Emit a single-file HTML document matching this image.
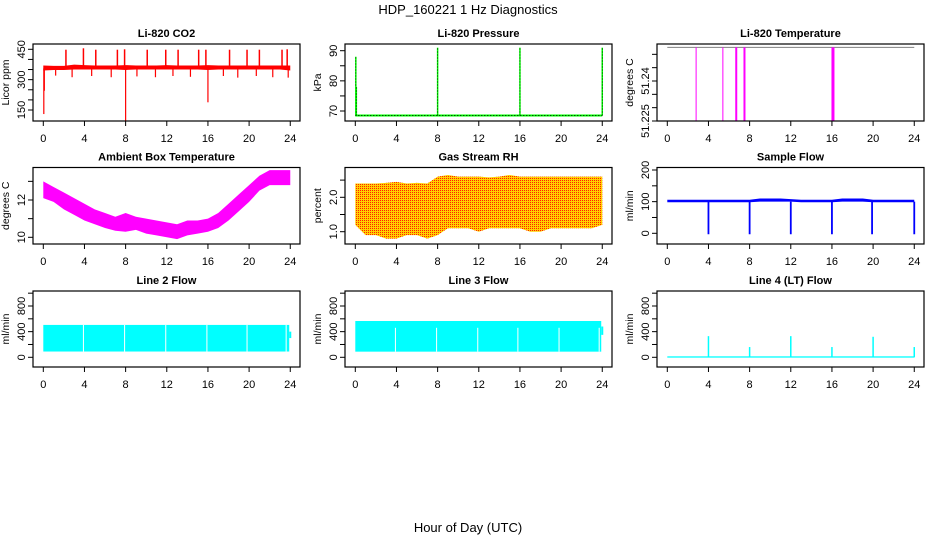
<!DOCTYPE html>
<html><head><meta charset="utf-8">
<style>
html,body{margin:0;padding:0;background:#fff;}
svg{display:block;font-family:"Liberation Sans",Arial,sans-serif;}
</style></head>
<body>
<svg id="chart" width="936" height="540" viewBox="0 0 936 540" xmlns="http://www.w3.org/2000/svg">
<defs>
<pattern id="rhdots" width="2" height="2" patternUnits="userSpaceOnUse"><rect x="0" y="0" width="1" height="1" fill="#ff2000"/></pattern>
</defs>
<text x="468" y="14" text-anchor="middle" font-size="13">HDP_160221  1 Hz Diagnostics</text>
<text x="468" y="532" text-anchor="middle" font-size="13">Hour of Day (UTC)</text>
</svg>
<script>
// ---- data ----
const hourTicks = [0,4,8,12,16,20,24];
const hours = [0,1,2,3,4,5,6,7,8,9,10,11,12,13,14,15,16,17,18,19,20,21,22,23,24];
// CO2
const co2Lo = [345,348,348,350,350,350,350,350,348,350,350,350,350,350,350,350,348,350,350,350,350,350,350,350,345];
const co2Hi = [370,368,368,374,372,370,370,370,372,370,370,370,372,370,370,370,372,370,370,370,370,370,370,370,370];
const co2SpikeH = [2.2,3.9,5.1,7.2,7.9,10.1,11.9,13.1,15.1,15.8,18.1,19.8,21.0,23.2,23.7];
const co2SpikeV = [448,455,448,448,450,448,448,448,448,448,448,448,448,448,450];
const co2DipH = [0.05,0.1,8.0,16.0,1.2,2.8,4.7,6.6,9.1,10.9,12.6,14.3,17.5,18.9,20.7,22.3,23.8];
const co2DipV = [130,245,96,188,320,312,318,312,316,312,318,314,318,310,318,312,310];
// Pressure
const presBase = 68.5;
const presSpikeH = [0.05,0.1,8.0,16.0,24.0];
const presSpikeV = [88,78,91,91,91];
// Li-820 temperature
const tempTop = 51.2526;
const tempDropH = [2.8,5.4,6.7,7.5,16.1];
const tempDropW = [1,1,2,2,3];
const tempDropV = [51.225,51.225,51.225,51.225,51.225];
// Ambient
const ambLo = [12.1,11.9,11.5,11.2,10.9,10.7,10.5,10.35,10.3,10.4,10.2,10.1,10.0,9.9,10.1,10.2,10.3,10.5,10.9,11.4,11.9,12.5,12.8,12.8,12.8];
const ambHi = [13.0,12.7,12.4,12.1,11.8,11.5,11.3,11.1,11.3,11.1,11.0,10.9,10.8,10.7,10.9,10.9,11.0,11.3,11.8,12.3,12.8,13.3,13.6,13.6,13.6];
// RH
const rhLo = [1.2,0.9,0.9,0.8,0.8,0.9,0.9,0.8,0.9,1.1,1.1,1.1,1.0,1.1,1.1,1.1,1.1,1.0,1.0,1.1,1.1,1.1,1.1,1.1,1.2];
const rhHi = [2.4,2.4,2.4,2.42,2.45,2.4,2.42,2.4,2.6,2.65,2.6,2.6,2.6,2.58,2.6,2.65,2.6,2.6,2.6,2.6,2.6,2.6,2.6,2.6,2.6];
// Sample flow
const sfLo = [98,98,98,98,98,98,98,98,98,100,100,100,100,98,98,98,98,100,100,100,98,98,98,98,98];
const sfHi = [106,106,106,106,106,106,106,106,106,110,110,110,108,106,106,106,106,110,110,110,106,106,106,106,106];
const sfDipH = [4.0,8.0,12.0,16.0,19.9,24.0];
const sfDipV = [-3,-3,-3,-3,-3,-3];
// Line flows
const l2Lo = 90, l2Hi = 505;
const l2GapH = [3.9,7.9,11.9,15.9,19.8,23.6];
const l3Lo = 88, l3Hi = 566;
const l3GapH = [3.9,7.9,11.9,15.8,19.8,23.7];
const l4Base = 15;
const l4SpikeH = [4.0,8.0,12.0,16.0,20.0,24.0];
const l4SpikeV = [330,160,330,160,320,160];

// ---- layout ----
const svg = document.getElementById('chart');
const NS = 'http://www.w3.org/2000/svg';
const rowTop = [44,167.5,291], rowBot = [121,244,367];
function el(tag, attrs, parent){const e=document.createElementNS(NS,tag);for(const k in attrs)e.setAttribute(k,attrs[k]);(parent||svg).appendChild(e);return e;}
function makePanel(c, r, title, ylab, v1, p1, v2, p2, yticks, ylabels, name){
  const g = el('g',{});
  
  
  const L=33+312*c, R=300+312*c, T=rowTop[r], B=rowBot[r];
  const x = h => 43.3+312*c + h*10.29;
  const y = v => p1 + (v-v1)*(p2-p1)/(v2-v1);
  const t = el('text',{x:(L+R)/2,y:T-7,'text-anchor':'middle','font-size':11,'font-weight':'bold'},g);
  t.textContent = title;
  
  
  const yl = el('text',{x:0,y:0,'text-anchor':'middle','font-size':10.5,transform:`translate(${L-24},${(T+B)/2}) rotate(-90)`},g);
  yl.textContent = ylab;
  
  
  const xa = el('g',{},g);
  
  
  el('line',{x1:x(0),x2:x(24),y1:B,y2:B,stroke:'#000'},xa);
  hourTicks.forEach(h=>{
    el('line',{x1:x(h),x2:x(h),y1:B,y2:B+5,stroke:'#000'},xa);
    const tl=el('text',{x:x(h),y:B+21,'text-anchor':'middle','font-size':11},xa);
    tl.textContent=h;
  });
  const ya = el('g',{},g);
  
  
  yticks.forEach(v=>{el('line',{x1:L-5,x2:L,y1:y(v),y2:y(v),stroke:'#000'},ya);});
  ylabels.forEach(v=>{
    const tl=el('text',{x:0,y:0,'text-anchor':'middle','font-size':11,transform:`translate(${L-8},${y(v)}) rotate(-90)`},ya);
    tl.textContent=v;
  });
  const clip = el('clipPath',{id:'clip'+c+r},g);
  el('rect',{x:L,y:T,width:R-L,height:B-T},clip);
  const plot = el('g',{'clip-path':`url(#clip${c}${r})`},g);
  
  
  const box = el('rect',{x:L,y:T,width:R-L,height:B-T,fill:'none',stroke:'#000','stroke-width':1.2},g);
  
  
  return {x,y,plot,L,R,T,B};
}
function band(p, lo, hi, color){
  let pts = hours.map((h,i)=>`${p.x(h)},${p.y(hi[i])}`);
  pts = pts.concat(hours.slice().reverse().map((h,j)=>{const i=hours.length-1-j;return `${p.x(h)},${p.y(lo[i])}`;}));
  return el('polygon',{points:pts.join(' '),fill:color},p.plot);
}

// CO2
let p = makePanel(0,0,'Li-820 CO2','Licor ppm',450,49.3,150,110,[150,200,250,300,350,400,450],[150,300,450],'co2');
band(p,co2Lo,co2Hi,'#ff0000');
co2SpikeH.forEach((h,i)=>{const l=el('line',{x1:p.x(h),x2:p.x(h),y1:p.y(355),y2:p.y(co2SpikeV[i]),stroke:'#ff0000','stroke-width':1.5},p.plot);});
co2DipH.forEach((h,i)=>{const l=el('line',{x1:p.x(h),x2:p.x(h),y1:p.y(355),y2:p.y(co2DipV[i]),stroke:'#ff0000','stroke-width':1.2},p.plot);});

// Pressure
p = makePanel(1,0,'Li-820 Pressure','kPa',90,50.7,70,111,[70,75,80,85,90],[70,80,90],'pressure');
el('line',{x1:p.x(0),x2:p.x(24),y1:p.y(presBase),y2:p.y(presBase),stroke:'#00ff00','stroke-width':2},p.plot);
el('line',{x1:p.x(0),x2:p.x(24),y1:p.y(presBase),y2:p.y(presBase),stroke:'#000','stroke-width':1,'stroke-dasharray':'1 2'},p.plot);
presSpikeH.forEach((h,i)=>{
  const l=el('line',{x1:p.x(h),x2:p.x(h),y1:p.y(presBase),y2:p.y(presSpikeV[i]),stroke:'#00ff00','stroke-width':1.5},p.plot);
  
  el('line',{x1:p.x(h),x2:p.x(h),y1:p.y(presBase),y2:p.y(presSpikeV[i]),stroke:'#000','stroke-width':0.8,'stroke-dasharray':'1 2'},p.plot);
});

// Li-820 temperature
p = makePanel(2,0,'Li-820 Temperature','degrees C',51.240,81,51.225,121,[51.225,51.230,51.235,51.240,51.245,51.250],[51.225,51.240],'li820-temp');
el('line',{x1:p.x(0),x2:p.x(24),y1:p.y(tempTop),y2:p.y(tempTop),stroke:'#808080','stroke-width':1},p.plot);
tempDropH.forEach((h,i)=>{const l=el('line',{x1:p.x(h),x2:p.x(h),y1:p.y(tempTop),y2:p.y(tempDropV[i]),stroke:'#ff00ff','stroke-width':tempDropW[i]},p.plot);});

// Ambient
p = makePanel(0,1,'Ambient Box Temperature','degrees C',12,200,10,237.3,[10,11,12,13],[10,12],'ambient-temp');
band(p,ambLo,ambHi,'#ff00ff');

// RH
p = makePanel(1,1,'Gas Stream RH','percent',2.0,197.3,1.0,231.7,[1.0,1.5,2.0,2.5],['1.0','2.0'],'gas-rh');
band(p,rhLo,rhHi,'#ffd000');
band(p,rhLo,rhHi,'url(#rhdots)');

// Sample flow
p = makePanel(2,1,'Sample Flow','ml/min',0,233.3,200,170,[0,50,100,150,200],[0,100,200],'sample-flow');
band(p,sfLo,sfHi,'#0000ff');
sfDipH.forEach((h,i)=>{const l=el('line',{x1:p.x(h),x2:p.x(h),y1:p.y(100),y2:p.y(sfDipV[i]),stroke:'#0000ff','stroke-width':1.8},p.plot);});

// Line 2
p = makePanel(0,2,'Line 2 Flow','ml/min',0,357.3,800,306,[0,200,400,600,800,1000],[0,400,800],'line2-flow');
el('rect',{x:p.x(0),y:p.y(l2Hi),width:p.x(23.9)-p.x(0),height:p.y(l2Lo)-p.y(l2Hi),fill:'#00ffff'},p.plot);
el('rect',{x:p.x(24)-1,y:p.y(400),width:2,height:p.y(300)-p.y(400),fill:'#00ffff'},p.plot);
l2GapH.forEach(h=>{const l=el('line',{x1:p.x(h),x2:p.x(h),y1:p.y(l2Hi),y2:p.y(l2Lo),stroke:'#fff','stroke-width':1},p.plot);});

// Line 3
p = makePanel(1,2,'Line 3 Flow','ml/min',0,357.3,800,306,[0,200,400,600,800,1000],[0,400,800],'line3-flow');
el('rect',{x:p.x(0),y:p.y(l3Hi),width:p.x(23.9)-p.x(0),height:p.y(l3Lo)-p.y(l3Hi),fill:'#00ffff'},p.plot);
el('rect',{x:p.x(24)-1,y:p.y(480),width:2,height:p.y(350)-p.y(480),fill:'#00ffff'},p.plot);
l3GapH.forEach(h=>{const l=el('line',{x1:p.x(h),x2:p.x(h),y1:p.y(460),y2:p.y(l3Lo),stroke:'#fff','stroke-width':1},p.plot);});

// Line 4
p = makePanel(2,2,'Line 4 (LT) Flow','ml/min',0,357.3,800,306,[0,200,400,600,800,1000],[0,400,800],'line4-flow');
el('rect',{x:p.x(0),y:p.y(l4Base),width:p.x(24)-p.x(0),height:p.y(-5)-p.y(l4Base),fill:'#00ffff'},p.plot);
l4SpikeH.forEach((h,i)=>{const l=el('line',{x1:p.x(h),x2:p.x(h),y1:p.y(0),y2:p.y(l4SpikeV[i]),stroke:'#00ffff','stroke-width':1.5},p.plot);});
</script>
</body></html>
